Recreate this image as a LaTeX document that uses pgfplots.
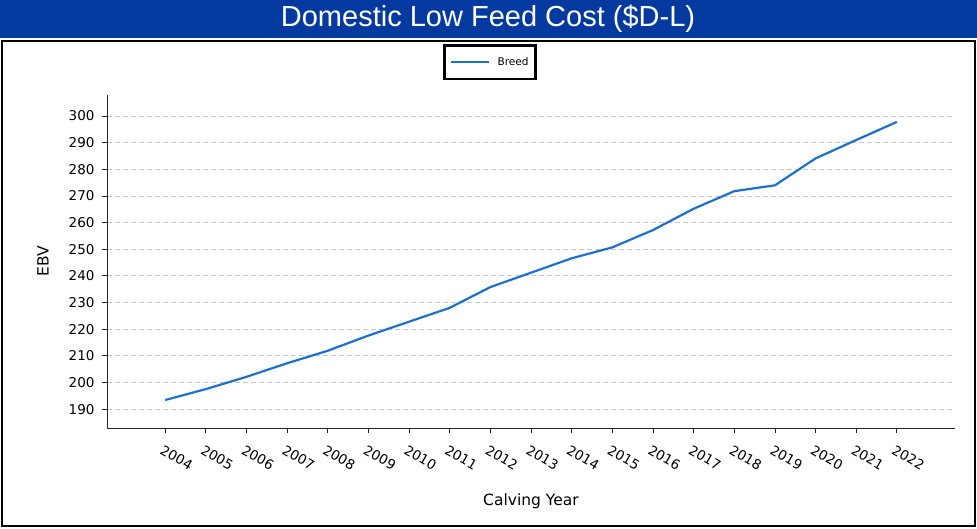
\documentclass[border=0pt]{standalone}
\usepackage{fontspec}
\setmainfont{DejaVu Sans}
\newfontfamily\titlefont{Liberation Sans}
\usepackage{pgfplots}
\pgfplotsset{compat=1.18}
\definecolor{bandblue}{RGB}{4,58,160}
\definecolor{breedblue}{RGB}{31,111,204}
\definecolor{gridgray}{RGB}{200,200,200}

\begin{document}
\begin{tikzpicture}[x=1pt,y=1pt]
\useasboundingbox (0,0) rectangle (977,-528);
% title band and frame
\fill[bandblue] (0,0) rectangle (977,-38);
\node[text=white,font=\titlefont\fontsize{29}{32}\selectfont] at (488,-19) {Domestic Low Feed Cost (\$D-L)};
\draw[line width=2pt] (2,-41) rectangle (975,-526);

\begin{axis}[
  at={(107pt,-428pt)}, anchor=south west,
  scale only axis, width=848pt, height=333pt,
  xmin=2002.57, xmax=2023.43,
  ymin=182.9, ymax=307.9,
  axis x line*=bottom, axis y line*=left,
  axis line style={line width=0.9pt, black!85},
  xtick={2004,2005,...,2022},
  ytick={190,200,...,300},
  tick align=outside,
  major tick length=5pt,
  tick style={line width=0.8pt, black!85},
  ymajorgrids,
  grid style={gridgray, line width=0.8pt, dash pattern=on 5pt off 3pt},
  /pgf/number format/assume math mode=true,
  /pgf/number format/1000 sep={},
  tick label style={font=\fontsize{13.5}{15}\selectfont},
  xticklabel style={rotate=-30, anchor=north west, xshift=1.5pt, yshift=-7pt},
  yticklabel style={xshift=-4pt},
  xlabel={Calving Year},
  ylabel={EBV},
  label style={font=\fontsize{15.5}{17}\selectfont},
  xlabel style={at={(axis description cs:0.5,-0.219)}, anchor=center},
  ylabel style={at={(axis description cs:-0.0755,0.5)}, anchor=center, rotate=0},
  legend style={at={(axis description cs:0.4517,1.153)}, anchor=north,
    draw=black, line width=2.6pt, font=\fontsize{10.5}{12}\selectfont,
    inner xsep=5pt, inner ysep=10pt, cells={anchor=west}},
  legend image code/.code={\draw[#1, line width=2pt] (0pt,0pt) -- (38pt,0pt);
    \path (44pt,0pt);},
]
\addplot[breedblue, line width=2.2pt] table {
2004 193.4
2005 197.5
2006 202.1
2007 207.2
2008 211.9
2009 217.6
2010 222.8
2011 228.0
2012 235.8
2013 241.2
2014 246.6
2015 250.7
2016 257.2
2017 265.2
2018 271.8
2019 274.0
2020 284.1
2021 291.0
2022 297.8
};
\addlegendentry{Breed}
\end{axis}
\end{tikzpicture}
\end{document}
